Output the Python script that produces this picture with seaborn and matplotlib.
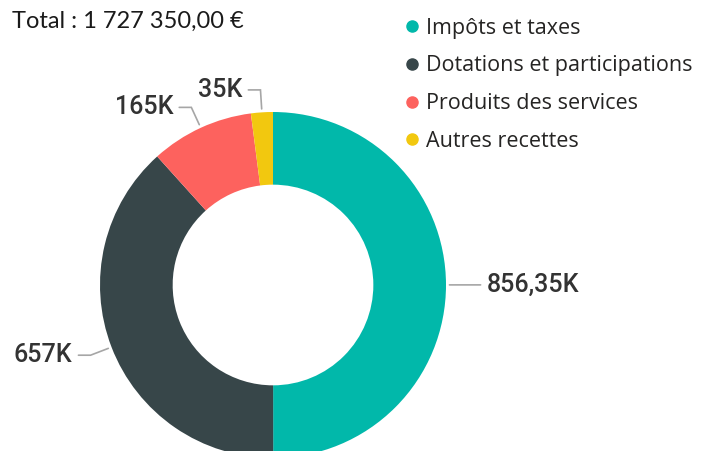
import numpy as np
import seaborn as sns
import matplotlib.pyplot as plt
from matplotlib.lines import Line2D

# Data
categories = ['Impôts et taxes', 'Dotations et participations',
              'Produits des services', 'Autres recettes']
values = [856350, 657000, 165000, 35000]
value_labels = ['856,35K', '657K', '165K', '35K']
total_label = 'Total : 1 727 350,00 €'
colors = ['#01B8AA', '#374649', '#FD625E', '#F2C80F']

sns.set_theme(style='white')
plt.rcParams['font.family'] = ['Open Sans', 'DejaVu Sans']

W, H = 702, 451
fig = plt.figure(figsize=(W / 100, H / 100), dpi=100)

# donut: centre (273, 285) px, outer radius 173 px
R = 173
cx, cy = 273, 285
ax = fig.add_axes([(cx - R) / W, (H - cy - R) / H, 2 * R / W, 2 * R / H])
wedges, _ = ax.pie(values, colors=colors, startangle=90, counterclock=False,
                   radius=1, wedgeprops=dict(width=0.42, linewidth=0))
ax.set_xlim(-1, 1)
ax.set_ylim(-1, 1)
ax.set_aspect('equal')
ax.axis('off')

# leader lines and value labels
for w, lab in zip(wedges, value_labels):
    ang = np.deg2rad((w.theta1 + w.theta2) / 2)
    c, s = np.cos(ang), np.sin(ang)
    x0, y0 = 1.02 * c, 1.02 * s
    x1, y1 = 1.13 * c, 1.13 * s
    side = 1 if c >= 0 else -1
    x2 = x1 + side * 0.07
    ax.plot([x0, x1, x2], [y0, y1, y1], color='#a6a6a6', lw=1.2,
            clip_on=False, solid_joinstyle='miter')
    ax.text(x2 + side * 0.035, y1, lab, ha='left' if side > 0 else 'right',
            va='center', fontsize=18, color='#333333', family='Roboto',
            fontweight='medium')

fig.text(12 / W, 1 - 21 / H, total_label, fontsize=17, color='#1a1a1a',
         va='center', ha='left', family='Lato')

handles = [Line2D([], [], marker='o', linestyle='none', markersize=8,
                  markerfacecolor=col, markeredgecolor=col) for col in colors]
fig.legend(handles, categories, loc='upper left',
           bbox_to_anchor=(393 / W, 1 - 9 / H), frameon=False,
           fontsize=15.5, handletextpad=0.15, labelspacing=0.78,
           handlelength=1.0, borderaxespad=0, labelcolor='#252423')

fig.savefig('out.png', dpi=100)
